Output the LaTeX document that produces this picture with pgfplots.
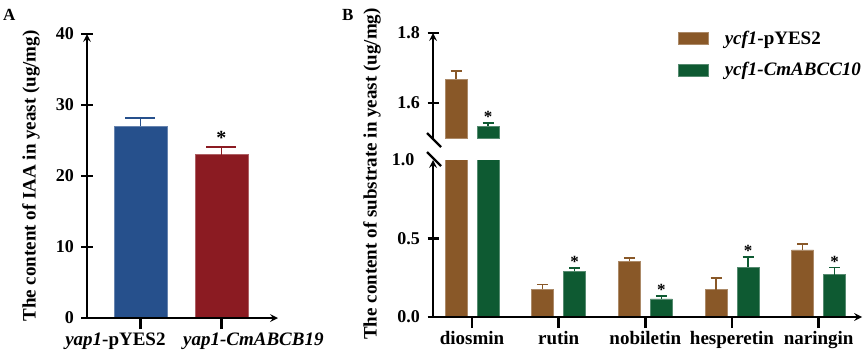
\documentclass[border=0pt]{standalone}
\usepackage{fontspec}
\setmainfont{Liberation Serif}
\usepackage{pgfplots}
\pgfplotsset{compat=1.18}
\definecolor{cblue}{RGB}{38,80,140}
\definecolor{cred}{RGB}{139,27,34}
\definecolor{cbrown}{RGB}{137,88,40}
\definecolor{cgreen}{RGB}{14,90,50}
\pgfplotsset{
 mystyle/.style={
  scale only axis,
  axis on top,
  axis line style={line width=2.4pt, -},
  every tick/.style={line width=2.4pt, black},
  major tick length=11pt,
  tick align=outside,
  /pgf/number format/assume math mode=true,
  ticklabel style={font=\fontsize{18}{18}\selectfont\bfseries},
  yticklabel style={xshift=-4pt},
  clip=true,
 },
 onedec/.style={/pgf/number format/fixed, /pgf/number format/fixed zerofill, /pgf/number format/precision=1},
 errA/.style={error bars/.cd, y dir=plus, y explicit,
   error bar style={line width=1.6pt, #1},
   error mark options={line width=1.6pt, #1, mark size=15pt, rotate=90}},
 errB/.style={error bars/.cd, y dir=plus, y explicit,
   error bar style={line width=1.4pt, #1},
   error mark options={line width=1.4pt, #1, mark size=5.5pt, rotate=90}},
}
\begin{document}
\begin{tikzpicture}[x=1pt,y=1pt]
\useasboundingbox (0,0) rectangle (865,-359);
% ---------------- Panel A
\begin{axis}[mystyle, at={(87pt,-318pt)}, anchor=south west, width=191pt, height=284pt,
  axis x line=bottom, axis y line=left,
  ybar, bar width=53pt,
  xmin=-0.66, xmax=1.70, ymin=0, ymax=40, ytick={0,10,20,30,40},
  xtick={0,1}, xticklabels={{\makebox[0pt]{\hspace*{-50pt}\textit{yap1}-pYES2}}, {\makebox[0pt]{\hspace*{64pt}\textit{yap1-CmABCB19}}}},
  xticklabel style={font=\fontsize{19}{19}\selectfont\bfseries},
  ylabel={The content of IAA in yeast (ug/mg)},
  ylabel style={at={(axis description cs:-0.293,0.5)}, anchor=center, font=\fontsize{19}{19}\selectfont\bfseries},
 ]
\addplot[bar shift=0pt, fill=cblue, draw=cblue!70!white, line width=0.6pt, errA=cblue]
  coordinates {(0,27.0) +- (0,1.2)};
\addplot[bar shift=0pt, fill=cred, draw=cred!70!white, line width=0.6pt, errA=cred]
  coordinates {(1,23.0) +- (0,1.1)};
\node[font=\fontsize{20}{20}\selectfont\bfseries, anchor=south, inner sep=0pt, yshift=2pt] at (axis cs:1,24.1) {*};
\end{axis}
% ---------------- Panel B lower
\begin{axis}[mystyle, at={(433pt,-317pt)}, anchor=south west, width=429pt, height=157pt,
  axis x line=bottom, axis y line=left,
  ybar=10pt, bar width=22pt,
  xmin=-0.45, xmax=4.5, ymin=0, ymax=1.0, ytick={0,0.5},
  yticklabel style={onedec},
  extra y ticks={1}, extra y tick labels={1.0},
  extra y tick style={major tick length=0pt, yticklabel style={xshift=-11pt}},
  xtick={0,1,2,3,4}, xticklabels={diosmin,rutin,nobiletin,hesperetin,naringin},
  xticklabel style={font=\fontsize{19}{19}\selectfont\bfseries},
 ]
\addplot[fill=cbrown, draw=cbrown!70!white, line width=0.6pt, errB=cbrown]
  coordinates {(0,1.669) +- (0,0.022) (1,0.177) +- (0,0.029) (2,0.355) +- (0,0.022) (3,0.174) +- (0,0.075) (4,0.428) +- (0,0.038)};
\addplot[fill=cgreen, draw=cgreen!70!white, line width=0.6pt, errB=cgreen]
  coordinates {(0,1.534) +- (0,0.009) (1,0.291) +- (0,0.022) (2,0.115) +- (0,0.019) (3,0.317) +- (0,0.066) (4,0.270) +- (0,0.045)};
\begin{scope}[every node/.style={font=\fontsize{17}{17}\selectfont\bfseries, anchor=south, inner sep=0pt}]
\node at (axis cs:1,0.313) [xshift=16pt] {*};
\node at (axis cs:2,0.134) [xshift=16pt] {*};
\node at (axis cs:3,0.383) [xshift=16pt] {*};
\node at (axis cs:4,0.315) [xshift=16pt] {*};
\end{scope}
\end{axis}
% ---------------- Panel B upper
\begin{axis}[mystyle, at={(433pt,-138pt)}, anchor=south west, width=429pt, height=105pt,
  axis x line=none, axis y line=left,
  ybar=10pt, bar width=22pt,
  xmin=-0.45, xmax=4.5, ymin=1.5, ymax=1.8, ytick={1.6,1.8},
  yticklabel style={onedec},
  legend image code/.code={\fill[#1] (0pt,-6pt) rectangle (30pt,6pt);},
  legend cell align=left,
  legend style={at={(0.571,1.043)}, anchor=north west, draw=none, fill=none,
    font=\fontsize{19}{19}\selectfont\bfseries, row sep=13pt, inner sep=0pt,
    /tikz/every odd column/.append style={column sep=14pt}},
 ]
\addplot[fill=cbrown, draw=cbrown!70!white, line width=0.6pt, errB=cbrown]
  coordinates {(0,1.669) +- (0,0.022)};
\addlegendentry{\textit{ycf1}-pYES2}
\addplot[fill=cgreen, draw=cgreen!70!white, line width=0.6pt, errB=cgreen]
  coordinates {(0,1.534) +- (0,0.009)};
\addlegendentry{\textit{ycf1-CmABCC10}}
\node[font=\fontsize{17}{17}\selectfont\bfseries, anchor=south, inner sep=0pt, xshift=16pt] at (axis cs:0,1.543) {*};
\end{axis}
% break marks
\draw[line width=2.2pt] (427,-133) -- (441,-147);
\draw[line width=2.2pt] (427,-152) -- (441,-166);
% labels
\node[rotate=90, font=\fontsize{19}{19}\selectfont\bfseries] at (372,-174) {The content of substrate in yeast (ug/mg)};
\node[anchor=base west, inner sep=0pt, font=\fontsize{17}{17}\selectfont\bfseries] at (3,-20) {A};
\node[anchor=base west, inner sep=0pt, font=\fontsize{17}{17}\selectfont\bfseries] at (342,-20) {B};
\end{tikzpicture}
\end{document}
